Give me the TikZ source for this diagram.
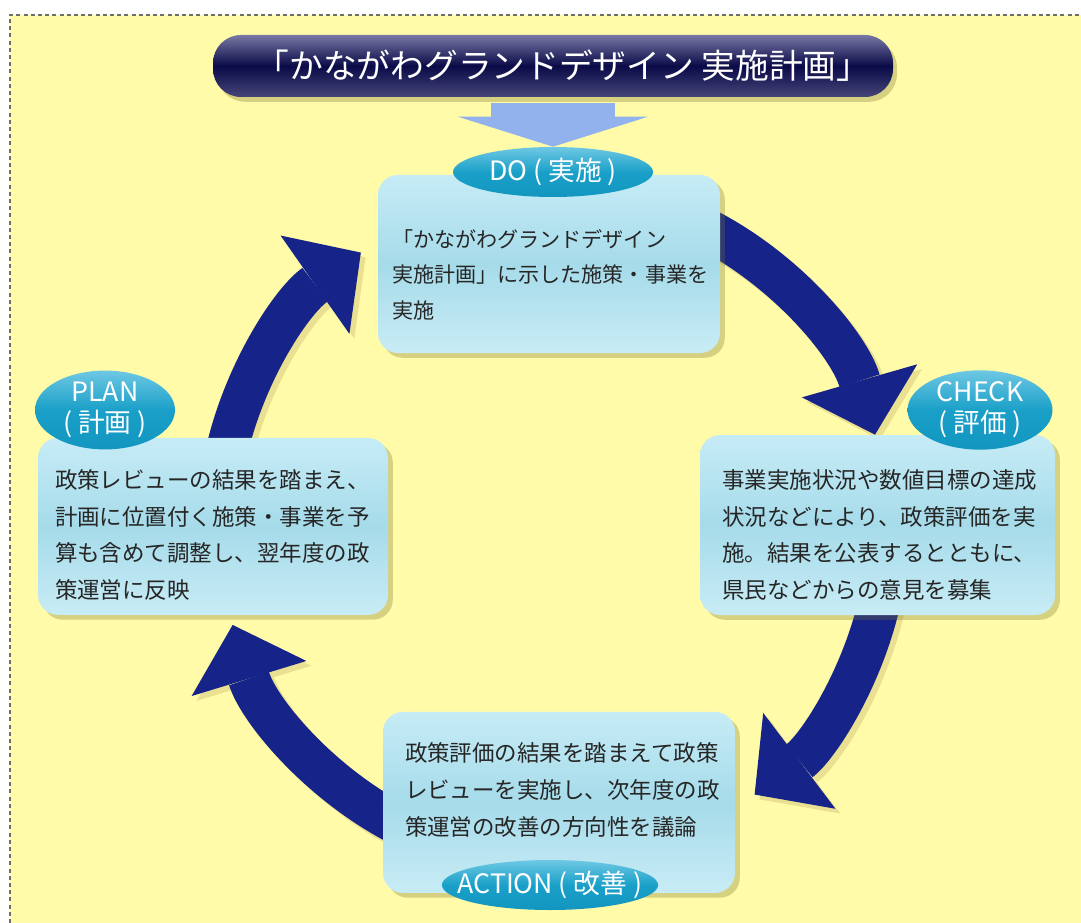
\documentclass[tikz,border=0pt]{standalone}
\usepackage{fontspec}
\setmainfont{Noto Sans CJK JP}
\usetikzlibrary{arrows.meta,positioning,shapes.geometric,shadows}
\definecolor{paper}{RGB}{255,251,168}
\definecolor{dashgray}{RGB}{110,110,110}
\definecolor{navy}{RGB}{22,36,138}
\definecolor{arrowshade}{RGB}{233,224,146}
\definecolor{boxmid}{RGB}{166,219,234}
\definecolor{boxtop}{RGB}{198,236,246}
\definecolor{boxbot}{RGB}{200,236,245}
\definecolor{lblmid}{RGB}{26,160,200}
\definecolor{lbltop}{RGB}{110,200,228}
\definecolor{lblbot}{RGB}{18,150,192}
\definecolor{titlemid}{RGB}{10,10,72}
\definecolor{titletop}{RGB}{120,120,165}
\definecolor{titlebot}{RGB}{70,70,120}
\definecolor{downblue}{RGB}{146,178,238}
\definecolor{shadowol}{RGB}{120,110,40}

\tikzset{
  titlebar/.style={rounded corners=0.7cm, top color=titletop, bottom color=titlebot, middle color=titlemid,
    text=white, font=\fontsize{24}{24}\selectfont, minimum width=17cm, minimum height=1.55cm,
    drop shadow={shadow xshift=0.1cm, shadow yshift=-0.12cm, fill=shadowol, opacity=0.3}},
  phasebox/.style={rounded corners=0.5cm, top color=boxtop, bottom color=boxbot, middle color=boxmid,
    drop shadow={shadow xshift=0.12cm, shadow yshift=-0.12cm, fill=shadowol, opacity=0.3}},
  phaselbl/.style={ellipse, inner sep=0pt, top color=lbltop, bottom color=lblbot, middle color=lblmid,
    text=white, align=center, font=\fontsize{19}{22}\selectfont},
  phasetxt/.style={inner sep=0pt, align=left, text=black!85, font=\fontsize{16}{26}\selectfont},
  cyclearrow/.style={navy, line width=1.05cm, -{Triangle[width=3cm,length=1.4cm,line width=0pt]}},
  cycleshadow/.style={cyclearrow, arrowshade, transform canvas={shift={(0.12,-0.12)}}},
  downarrow/.style={downblue, line width=3.1cm, shorten <=0.15cm, -{Triangle[width=4.75cm,length=0.75cm,line width=0pt]}}
}

\begin{document}
\begin{tikzpicture}
  \useasboundingbox (0,0) rectangle (27.025,-23.075);
  \fill[white] (0,0) rectangle (27.025,-23.075);
  \fill[paper] (0.25,-0.375) rectangle (27.025,-23.075);
  \draw[dashgray, line width=0.05cm, dash pattern=on 0.1cm off 0.08cm] (0.25,-23.075) -- (0.25,-0.375) -- (27.025,-0.375);

  % cycle arrows
  \coordinate (cyc) at (13.825,-13.175);
  \draw[cycleshadow] ([shift={(168:8.375)}]cyc) arc[start angle=168, end angle=125, radius=8.375];
  \draw[cycleshadow] ([shift={(62:8.375)}]cyc) arc[start angle=62, end angle=16, radius=8.375];
  \draw[cycleshadow] ([shift={(-12:8.375)}]cyc) arc[start angle=-12, end angle=-53, radius=8.375];
  \draw[cycleshadow] ([shift={(242:8.375)}]cyc) arc[start angle=242, end angle=197, radius=8.375];
  \draw[cyclearrow] ([shift={(168:8.375)}]cyc) arc[start angle=168, end angle=125, radius=8.375];
  \draw[cyclearrow] ([shift={(62:8.375)}]cyc) arc[start angle=62, end angle=16, radius=8.375];
  \draw[cyclearrow] ([shift={(-12:8.375)}]cyc) arc[start angle=-12, end angle=-53, radius=8.375];
  \draw[cyclearrow] ([shift={(242:8.375)}]cyc) arc[start angle=242, end angle=197, radius=8.375];

  % title
  \node[titlebar] (title) at (13.825,-1.65) {\hspace*{0.5cm}「かながわグランドデザイン 実施計画」};

  % boxes
  \node[phasebox, minimum width=8.55cm, minimum height=4.45cm] (dobox) at (13.725,-6.6) {};
  \node[phasebox, minimum width=8.875cm, minimum height=4.5cm] (checkbox) at (21.94,-13.125) {};
  \node[phasebox, minimum width=8.75cm, minimum height=4.425cm] (planbox) at (5.325,-13.16) {};
  \node[phasebox, minimum width=8.8cm, minimum height=4.525cm] (actbox) at (13.975,-20.06) {};

  \node[phasetxt, font=\fontsize{15}{25.5}\selectfont, right=0.35cm of dobox.west, yshift=-0.27cm] (dotxt)
    {「かながわグランドデザイン\\実施計画」に示した施策・事業を\\実施};
  \node[phasetxt, right=0.55cm of checkbox.west, yshift=-0.25cm] (checktxt)
    {事業実施状況や数値目標の達成\\状況などにより、政策評価を実\\施。結果を公表するとともに、\\県民などからの意見を募集};
  \node[phasetxt, right=0.425cm of planbox.west, yshift=-0.21cm] (plantxt)
    {政策レビューの結果を踏まえ、\\計画に位置付く施策・事業を予\\算も含めて調整し、翌年度の政\\策運営に反映};
  \node[phasetxt, right=0.55cm of actbox.west, yshift=0.31cm] (acttxt)
    {政策評価の結果を踏まえて政策\\レビューを実施し、次年度の政\\策運営の改善の方向性を議論};

  % labels
  \node[phaselbl, minimum width=5cm, minimum height=1.25cm, inner xsep=-0.2cm] (dolbl) at (13.825,-4.3) {DO ( 実施 )};
  \node[phaselbl, minimum width=3.625cm, minimum height=1.875cm] (checklbl) at (24.5,-10.25) {CHECK\\( 評価 )};
  \node[phaselbl, minimum width=3.5cm, minimum height=1.875cm] (planlbl) at (2.625,-10.25) {PLAN\\( 計画 )};
  \node[phaselbl, minimum width=5.375cm, minimum height=1.25cm, inner xsep=-0.4cm] (actlbl) at (13.75,-22.125) {ACTION ( 改善 )};

  \draw[downarrow] (title.south) -- (dolbl.north);
\end{tikzpicture}
\end{document}
